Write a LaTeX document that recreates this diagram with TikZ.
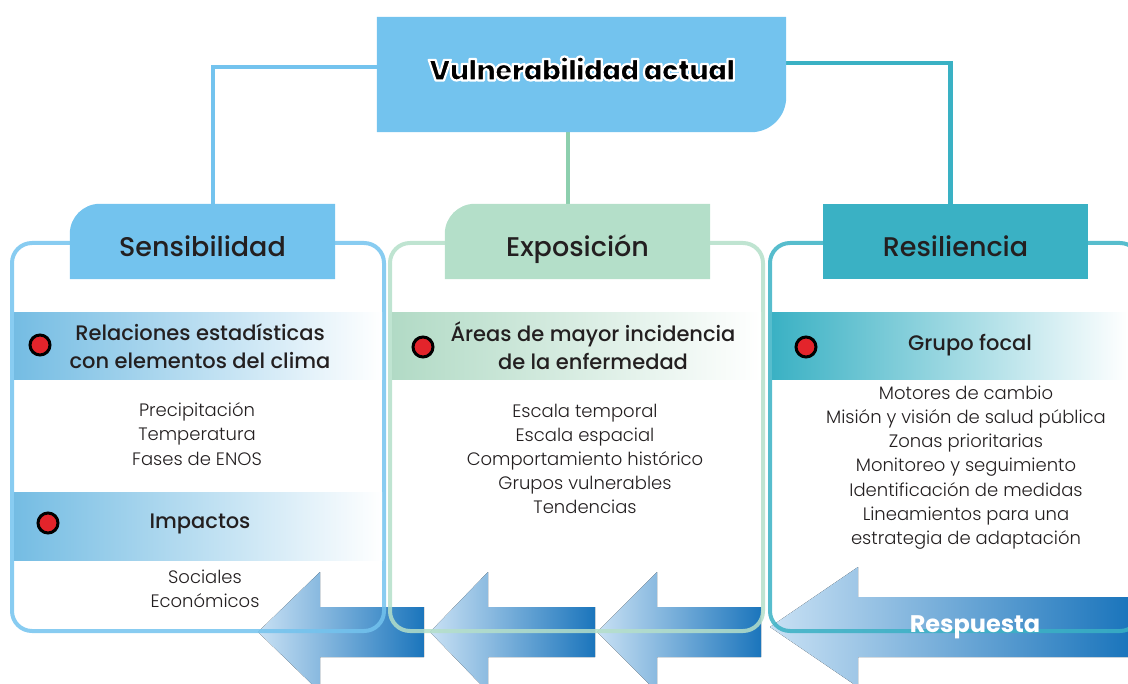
\documentclass[tikz,border=0pt]{standalone}
\usepackage{fontspec}
\setmainfont{Poppins}
\newfontfamily\lightfont{Poppins Light}
\newfontfamily\mediumfont{Poppins Medium}
\newfontfamily\heavyfont{Poppins Black}[LetterSpace=-5]
\usetikzlibrary{backgrounds}

\definecolor{vulblue}{HTML}{73C3EE}
\definecolor{expgreen}{HTML}{B4DFC9}
\definecolor{expline}{HTML}{8DCFAE}
\definecolor{resteal}{HTML}{3AB1C4}
\definecolor{dotred}{HTML}{E3242B}
\definecolor{arrlight}{HTML}{C9E1F4}
\definecolor{arrmid}{HTML}{78B3E0}
\definecolor{arrdark}{HTML}{1B75BC}
\definecolor{txtgray}{HTML}{231F20}

% white outline round the title glyphs
\newcommand\outlined[1]{\special{pdf:literal direct 2 Tr 1 1 1 RG 2.2 w 1 j}#1\special{pdf:literal direct 0 Tr 1 w}}

\tikzset{
  title/.style={font=\heavyfont\fontsize{29}{32}\selectfont, text=black},
  hdr/.style={minimum width=265pt, minimum height=75pt, inner sep=0pt,
    text height=31pt, text depth=0pt, font=\mediumfont\fontsize{27}{30}\selectfont},
  band/.style={align=center, font=\mediumfont\fontsize{21}{28}\selectfont},
  items/.style={align=center, font=\lightfont\fontsize{18}{24.2}\selectfont},
  dot/.style={circle, draw=black, line width=3pt, fill=dotred,
    minimum size=20pt, inner sep=0pt},
  panel/.style={line width=4pt, rounded corners=20pt, opacity=.85},
  link/.style={line width=4.5pt},
  pointer/.style={left color=arrlight, middle color=arrmid, right color=arrdark},
}

\begin{document}
\begin{tikzpicture}[x=1pt, y=-1pt, every node/.style={text=txtgray}]
\useasboundingbox (0,0) rectangle (1128,684);

% titles
\node[minimum width=409pt, minimum height=115pt] (vul) at (581.5,74.5) {};
\node[hdr] (sens) at (202.5,241.5) {Sensibilidad};
\node[hdr] (expo) at (577.5,241.5) {Exposición};
\node[hdr] (resi) at (955.5,241.5) {Resiliencia};

% bands
\node[band] (rel) at (200,346) {Relaciones estadísticas\\con elementos del clima};
\node[band] (imp) at (200,524) {Impactos};
\node[band] (are) at (593,346) {Áreas de mayor incidencia\\de la enfermedad};
\node[band] (gru) at (970,345) {Grupo focal};

\node[dot] (dotrel) at (40,345) {};
\node[dot] (dotimp) at (48,523) {};
\node[dot] (dotare) at (423,347) {};
\node[dot] (dotgru) at (806,347) {};

% lists
\node[items] (clima) at (197,434) {Precipitación\\Temperatura\\Fases de ENOS};
\node[items] (efectos) at (205,589) {Sociales\\Económicos};
\node[items] (escalas) at (585,459) {Escala temporal\\Escala espacial\\Comportamiento histórico\\Grupos vulnerables\\Tendencias};
\node[items] (motores) at (966,467.5) {Motores de cambio\\Misión y visión de salud pública\\Zonas prioritarias\\Monitoreo y seguimiento\\Identificación de medidas\\Lineamientos para una\\estrategia de adaptación};

\node[font=\bfseries\fontsize{24}{28}\selectfont, text=white] (resp) at (975,627) {Respuesta};

\begin{pgfonlayer}{background}
  % connectors
  \draw[link, vulblue] ([yshift=7.5pt]vul.west) -| ([xshift=10.5pt]sens.north);
  \draw[link, resteal] ([yshift=11.5pt]vul.east) -| ([xshift=-5pt]resi.north);
  \draw[link, expline] ([xshift=-13.5pt]vul.south) -- ([xshift=-13.5pt]vul.south |- expo.north);

  % arrows
  \fill[pointer] (258,632) -- (320,572) -- (320,607) -- (424,607) -- (424,657) -- (320,657) -- (320,692) -- cycle;
  \fill[pointer] (430,632) -- (488,572) -- (488,607) -- (595,607) -- (595,657) -- (488,657) -- (488,692) -- cycle;
  \fill[pointer] (597,632) -- (657,572) -- (657,607) -- (761,607) -- (761,657) -- (657,657) -- (657,692) -- cycle;
  \fill[pointer] (770,627) -- (858,567) -- (858,597) -- (1128,597) -- (1128,657) -- (858,657) -- (858,687) -- cycle;

  % panels
  \draw[panel, vulblue] (12,243) rectangle (384,631);
  \draw[panel, expgreen] (390,243) rectangle (763,631);
  \draw[panel, resteal] (770,243) rectangle (1140,631);

  % headers
  \fill[vulblue] (sens.south west) -- ([yshift=-30pt]sens.north west)
    arc[start angle=180, end angle=270, radius=30] -- (sens.north east) -- (sens.south east) -- cycle;
  \fill[expgreen] (expo.south west) -- ([yshift=-30pt]expo.north west)
    arc[start angle=180, end angle=270, radius=30] -- (expo.north east) -- (expo.south east) -- cycle;
  \fill[resteal] (resi.south west) rectangle (resi.north east);
  \fill[vulblue] (vul.north west) -- (vul.north east) -- ([yshift=35pt]vul.south east)
    arc[start angle=0, end angle=90, radius=35] -- (vul.south west) -- cycle;

  % band fills
  \fill[left color=vulblue!90!gray, middle color=vulblue!45, right color=white] (14,313) rectangle (382,380);
  \fill[left color=vulblue!90!gray, middle color=vulblue!45, right color=white] (14,493) rectangle (382,560);
  \fill[left color=expgreen!95!gray, middle color=expgreen!55, right color=white] (392,313) rectangle (761,380);
  \fill[left color=resteal, middle color=resteal!55, right color=white] (772,313) rectangle (1128,380);
\end{pgfonlayer}

\node[title] (vultext) at (582,68.5) {\outlined{Vulnerabilidad actual}};
\end{tikzpicture}
\end{document}
